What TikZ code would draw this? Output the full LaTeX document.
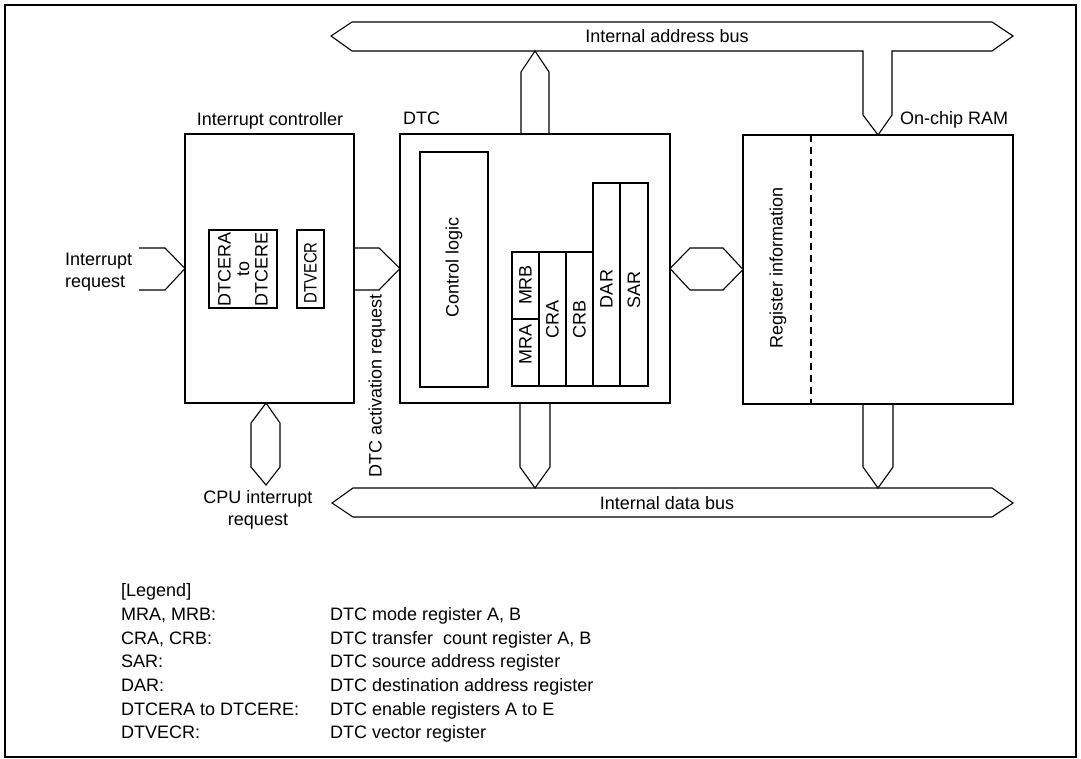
\documentclass[tikz,border=0pt]{standalone}
\usepackage{fontspec}
\setmainfont{Liberation Sans}
\begin{document}
\begin{tikzpicture}[x=1pt,y=-1pt,
  box/.style={draw, line width=2.3pt, inner sep=0pt, outer sep=0pt, anchor=north west},
  regbox/.style={draw, line width=2pt, inner sep=0pt, outer sep=0pt, anchor=north west},
  bus/.style={draw, line width=1.1pt, line join=miter},
  lbl/.style={inner sep=0pt, font=\fontsize{18}{22}\selectfont},
  rlbl/.style={lbl, rotate=90}]
\useasboundingbox (0,0) rectangle (1081,759);
\draw[line width=2.2pt] (5,5) rectangle (1076,757);

% main blocks
\node[box, minimum width=169pt, minimum height=269pt] (ic) at (185,134) {};
\node[box, minimum width=270pt, minimum height=269pt] (dtc) at (400,134) {};
\node[box, minimum width=270pt, minimum height=269pt] (ram) at (743,135) {};

% inner registers
\node[regbox, minimum width=68pt, minimum height=78pt] (dtcer) at (209,230) {};
\node[regbox, minimum width=27pt, minimum height=78pt] (dtvecr) at (297,230) {};
\node[regbox, minimum width=68pt, minimum height=235pt] (ctl) at (420,152) {};
\node[regbox, minimum width=27pt, minimum height=67pt] (mrb) at (512,252) {};
\node[regbox, minimum width=27pt, minimum height=67pt] (mra) at (512,319) {};
\node[regbox, minimum width=27pt, minimum height=134pt] (cra) at (539,252) {};
\node[regbox, minimum width=27pt, minimum height=134pt] (crb) at (566,252) {};
\node[regbox, minimum width=27pt, minimum height=203pt] (dar) at (593,183) {};
\node[regbox, minimum width=28pt, minimum height=203pt] (sar) at (620,183) {};

% dashed divider in RAM
\coordinate (dashtop) at (811,135);
\coordinate (dashbot) at (811,404);
\draw[line width=1.1pt, dash pattern=on 7pt off 5pt] (dashtop) -- (dashbot);

% rotated labels
\node[rlbl, align=center, font=\fontsize{18}{18.5}\selectfont] (t-dtcer) at (243,269) {DTCERA\\to\\DTCERE};
\node[rlbl] (t-dtvecr) at (310.5,273) {\scalebox{0.83}[1]{DTVECR}};
\node[rlbl] (t-ctl) at (454,267) {Control logic};
\node[rlbl] (t-mrb) at (525.5,285) {MRB};
\node[rlbl] (t-mra) at (525.5,344) {MRA};
\node[rlbl] (t-cra) at (552.5,319) {CRA};
\node[rlbl] (t-crb) at (579.5,319) {CRB};
\node[rlbl] (t-dar) at (606.5,289) {DAR};
\node[rlbl] (t-sar) at (634,290) {SAR};
\node[rlbl] (t-reg) at (778,268) {Register information};
\node[rlbl] (t-act) at (377,386) {DTC activation request};

% block titles
\node[lbl, anchor=base] (t-ic) at (270,125.5) {Interrupt controller};
\node[lbl, anchor=base west] (t-dtc) at (403,125) {DTC};
\node[lbl, anchor=base west] (t-ram) at (900,125) {On-chip RAM};

% address bus with stub to RAM
\draw[bus] (331,36) -- (352,22) -- (992,22) -- (1013,36) -- (992,51) -- (892,51)
  -- (892,115) -- (ram.north) -- (863,115) -- (863,51) -- (352,51) -- cycle;
\node[lbl] (t-abus) at (667,36) {Internal address bus};
% DTC to address bus
\draw[bus] (521,134) -- (521,72) -- (535,51) -- (549,72) -- (549,134);

% data bus
\draw[bus] (332,503) -- (353,488) -- (992,488) -- (1013,503) -- (992,517) -- (353,517) -- cycle;
\node[lbl] (t-dbus) at (667,503) {Internal data bus};
\draw[bus] (520,403) -- (520,467) -- (535,488) -- (550,467) -- (550,403);
\draw[bus] (863,404) -- (863,467) -- (878,488) -- (893,467) -- (893,404);

% DTC <-> RAM
\draw[bus] (dtc.east) -- (690,248) -- (723,248) -- (ram.west) -- (723,290) -- (690,290) -- cycle;

% interrupt request input
\draw[bus] (139,248) -- (165,248) -- (ic.west) -- (165,290) -- (139,290);
\node[lbl, anchor=base west] (t-ir1) at (65,265.5) {Interrupt};
\node[lbl, anchor=base west] (t-ir2) at (65,287.5) {request};

% DTC activation request
\draw[bus] (354,248) -- (379,248) -- (dtc.west) -- (379,290) -- (354,290);

% CPU interrupt request
\draw[bus] (266,403) -- (280,423) -- (280,467) -- (266,485) -- (251,467) -- (251,423) -- cycle;
\node[lbl, anchor=base] (t-cpu1) at (258,503) {CPU interrupt};
\node[lbl, anchor=base] (t-cpu2) at (258,525) {request};

% legend
\node[lbl, anchor=base west] (lg0) at (121,596.5) {[Legend]};
\node[lbl, anchor=base west] (lg1a) at (121,620) {MRA, MRB:};
\node[lbl, anchor=base west] (lg1b) at (330,620) {DTC mode register A, B};
\node[lbl, anchor=base west] (lg2a) at (121,644) {CRA, CRB:};
\node[lbl, anchor=base west] (lg2b) at (330,644) {DTC transfer\ \ count register A, B};
\node[lbl, anchor=base west] (lg3a) at (121,667.5) {SAR:};
\node[lbl, anchor=base west] (lg3b) at (330,667.5) {DTC source address register};
\node[lbl, anchor=base west] (lg4a) at (121,691) {DAR:};
\node[lbl, anchor=base west] (lg4b) at (330,691) {DTC destination address register};
\node[lbl, anchor=base west] (lg5a) at (121,715) {DTCERA to DTCERE:};
\node[lbl, anchor=base west] (lg5b) at (330,715) {DTC enable registers A to E};
\node[lbl, anchor=base west] (lg6a) at (121,738.5) {DTVECR:};
\node[lbl, anchor=base west] (lg6b) at (330,738.5) {DTC vector register};
\end{tikzpicture}
\end{document}
